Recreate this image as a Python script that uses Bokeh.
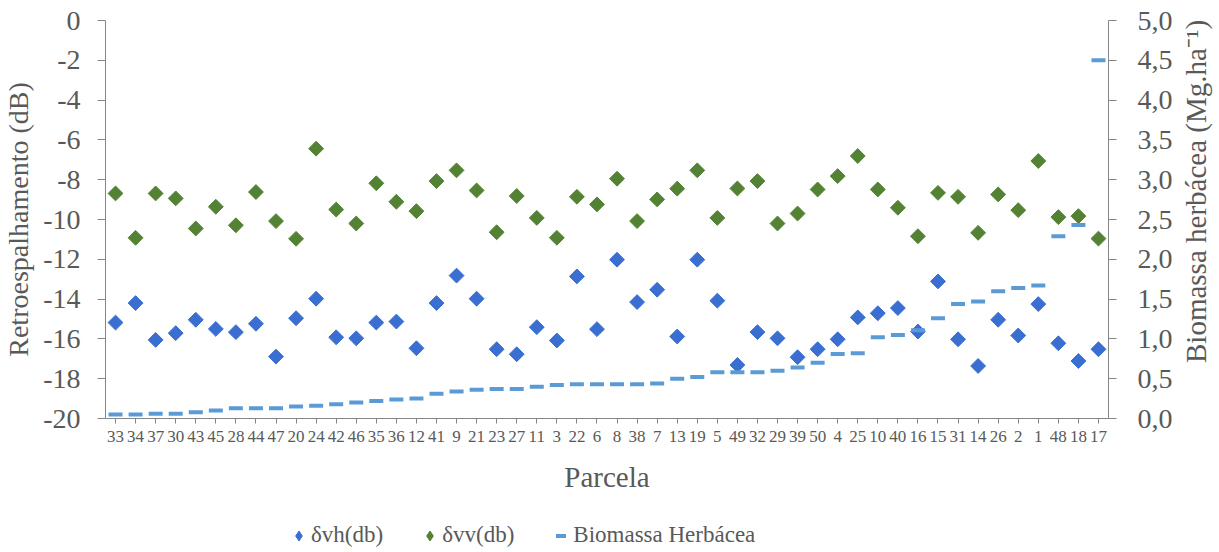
import numpy as np
from bokeh.plotting import figure
from bokeh.layouts import column, row
from bokeh.models import (FactorRange, Range1d, LinearAxis, FixedTicker,
                          CustomJSTickFormatter, Legend, LegendItem, Label)
from bokeh.embed import file_html
from bokeh.resources import INLINE

parcelas = ["33","34","37","30","43","45","28","44","47","20","24","42","46","35","36",
            "12","41","9","21","23","27","11","3","22","6","8","38","7","13","19","5",
            "49","32","29","39","50","4","25","10","40","16","15","31","14","26","2","1",
            "48","18","17"]

vh = [-15.18,-14.20,-16.05,-15.71,-15.04,-15.50,-15.66,-15.24,-16.89,-14.96,
      -13.98,-15.92,-15.97,-15.18,-15.13,-16.47,-14.20,-12.82,-13.98,-16.52,
      -16.77,-15.41,-16.08,-12.86,-15.51,-12.02,-14.15,-13.53,-15.88,-12.02,
      -14.08,-17.31,-15.66,-15.97,-16.92,-16.52,-16.02,-14.92,-14.71,-14.45,
      -15.63,-13.11,-16.02,-17.36,-15.04,-15.83,-14.25,-16.22,-17.11,-16.52]

vv = [-8.69,-10.92,-8.69,-8.94,-10.45,-9.36,-10.29,-8.62,-10.08,-10.97,
      -6.44,-9.50,-10.20,-8.18,-9.11,-9.58,-8.07,-7.53,-8.54,-10.64,
      -8.82,-9.92,-10.92,-8.86,-9.24,-7.95,-10.08,-8.99,-8.45,-7.53,
      -9.92,-8.44,-8.07,-10.20,-9.70,-8.49,-7.82,-6.81,-8.49,-9.41,
      -10.84,-8.66,-8.86,-10.67,-8.74,-9.53,-7.06,-9.88,-9.83,-10.96]

biomassa = [0.05,0.05,0.06,0.06,0.08,0.10,0.13,0.13,0.13,0.15,
            0.16,0.18,0.20,0.22,0.24,0.25,0.31,0.34,0.36,0.37,
            0.37,0.40,0.42,0.43,0.43,0.43,0.43,0.44,0.50,0.52,
            0.58,0.58,0.58,0.60,0.64,0.70,0.81,0.82,1.02,1.05,
            1.11,1.26,1.44,1.47,1.60,1.64,1.67,2.29,2.43,4.50]

left_ticks = list(range(-20, 1, 2))
right_ticks = [i * 0.5 for i in range(11)]

FONT = "Liberation Serif"
TXT = "#595959"
AX = "#868686"
BLUE = "#3A6ED0"
GREEN = "#548235"
DASH = "#5B9BD5"

p = figure(frame_width=1003, frame_height=398,
           x_range=FactorRange(*parcelas), y_range=Range1d(-20, 0),
           output_backend="svg", toolbar_location=None,
           min_border_left=105, min_border_right=64,
           min_border_top=20, min_border_bottom=92)
p.extra_y_ranges = {"bio": Range1d(0, 5)}
p.outline_line_color = None
p.xgrid.visible = False
p.ygrid.visible = False

r1 = p.scatter(x=parcelas, y=vh, marker="square", angle=np.pi / 4, size=10.5,
               fill_color=BLUE, line_color=BLUE)
r2 = p.scatter(x=parcelas, y=vv, marker="square", angle=np.pi / 4, size=10.5,
               fill_color=GREEN, line_color=GREEN)
r3 = p.scatter(x=parcelas, y=biomassa, y_range_name="bio", marker="dash",
               size=14, line_width=4, line_color=DASH)

# x axis
xa = p.xaxis[0]
xa.axis_label = "Parcela"
xa.axis_label_text_font = FONT
xa.axis_label_text_font_size = "29px"
xa.axis_label_text_font_style = "normal"
xa.axis_label_text_color = TXT
xa.axis_label_standoff = 16
xa.major_label_text_font = FONT
xa.major_label_text_font_size = "17px"
xa.major_label_text_color = TXT
xa.major_label_standoff = 7
xa.axis_line_color = AX
xa.major_tick_line_color = AX
xa.major_tick_in = 0
xa.major_tick_out = 5
xa.minor_tick_line_color = None

# left axis
ya = p.yaxis[0]
ya.ticker = FixedTicker(ticks=left_ticks)
ya.formatter = CustomJSTickFormatter(code="return tick.toFixed(0);")
ya.axis_label = "Retroespalhamento (dB)"
ya.axis_label_text_font = FONT
ya.axis_label_text_font_size = "28px"
ya.axis_label_text_font_style = "normal"
ya.axis_label_text_color = TXT
ya.axis_label_standoff = 6
ya.major_label_text_font = FONT
ya.major_label_text_font_size = "28px"
ya.major_label_text_color = TXT
ya.major_label_standoff = 17
ya.axis_line_color = AX
ya.major_tick_line_color = AX
ya.major_tick_in = 0
ya.major_tick_out = 8
ya.minor_tick_line_color = None

# right axis (its title is drawn in the strip to the right, reading upwards)
ra = LinearAxis(y_range_name="bio", ticker=FixedTicker(ticks=right_ticks),
                formatter=CustomJSTickFormatter(code="return tick.toFixed(1).replace('.', ',');"))
ra.major_label_text_font = FONT
ra.major_label_text_font_size = "28px"
ra.major_label_text_color = TXT
ra.major_label_standoff = 21
ra.axis_line_color = AX
ra.major_tick_line_color = AX
ra.major_tick_in = 0
ra.major_tick_out = 8
ra.minor_tick_line_color = None
p.add_layout(ra, "right")

# strip holding the right axis title
p3 = figure(width=47, height=510, x_range=Range1d(0, 47), y_range=Range1d(0, 510),
            output_backend="svg", toolbar_location=None,
            x_axis_location=None, y_axis_location=None, min_border=0)
p3.outline_line_color = None
p3.xgrid.visible = False
p3.ygrid.visible = False
p3.add_layout(Label(x=20, y=291, text="Biomassa herbácea (Mg.ha\u207b\u00b9)",
                    angle=np.pi / 2, text_align="center", text_baseline="middle",
                    text_font=FONT, text_font_size="29px", text_color=TXT))

# legend strip below the chart
p2 = figure(width=1219, height=42, x_range=Range1d(0, 1), y_range=Range1d(0, 1),
            output_backend="svg", toolbar_location=None,
            x_axis_location=None, y_axis_location=None, min_border=0)
p2.outline_line_color = None
p2.xgrid.visible = False
p2.ygrid.visible = False
l1 = p2.scatter(x=[5], y=[5], marker="diamond", fill_color=BLUE, line_color=BLUE)
l2 = p2.scatter(x=[5], y=[5], marker="diamond", fill_color=GREEN, line_color=GREEN)
l3 = p2.scatter(x=[5], y=[5], marker="dash", line_width=4, line_color=DASH)
legend = Legend(items=[LegendItem(label="δvh(db)", renderers=[l1]),
                       LegendItem(label="δvv(db)", renderers=[l2]),
                       LegendItem(label="Biomassa Herbácea", renderers=[l3])],
                orientation="horizontal", location=(286, 4),
                label_text_font=FONT, label_text_font_size="23px",
                label_text_color=TXT, border_line_color=None,
                background_fill_alpha=0, glyph_width=25, glyph_height=25,
                label_standoff=0, spacing=34, padding=0, margin=0)
p2.add_layout(legend, "center")

layout = column(row(p, p3, spacing=0), p2, spacing=0)
open("out.html", "w").write(file_html(layout, INLINE))
